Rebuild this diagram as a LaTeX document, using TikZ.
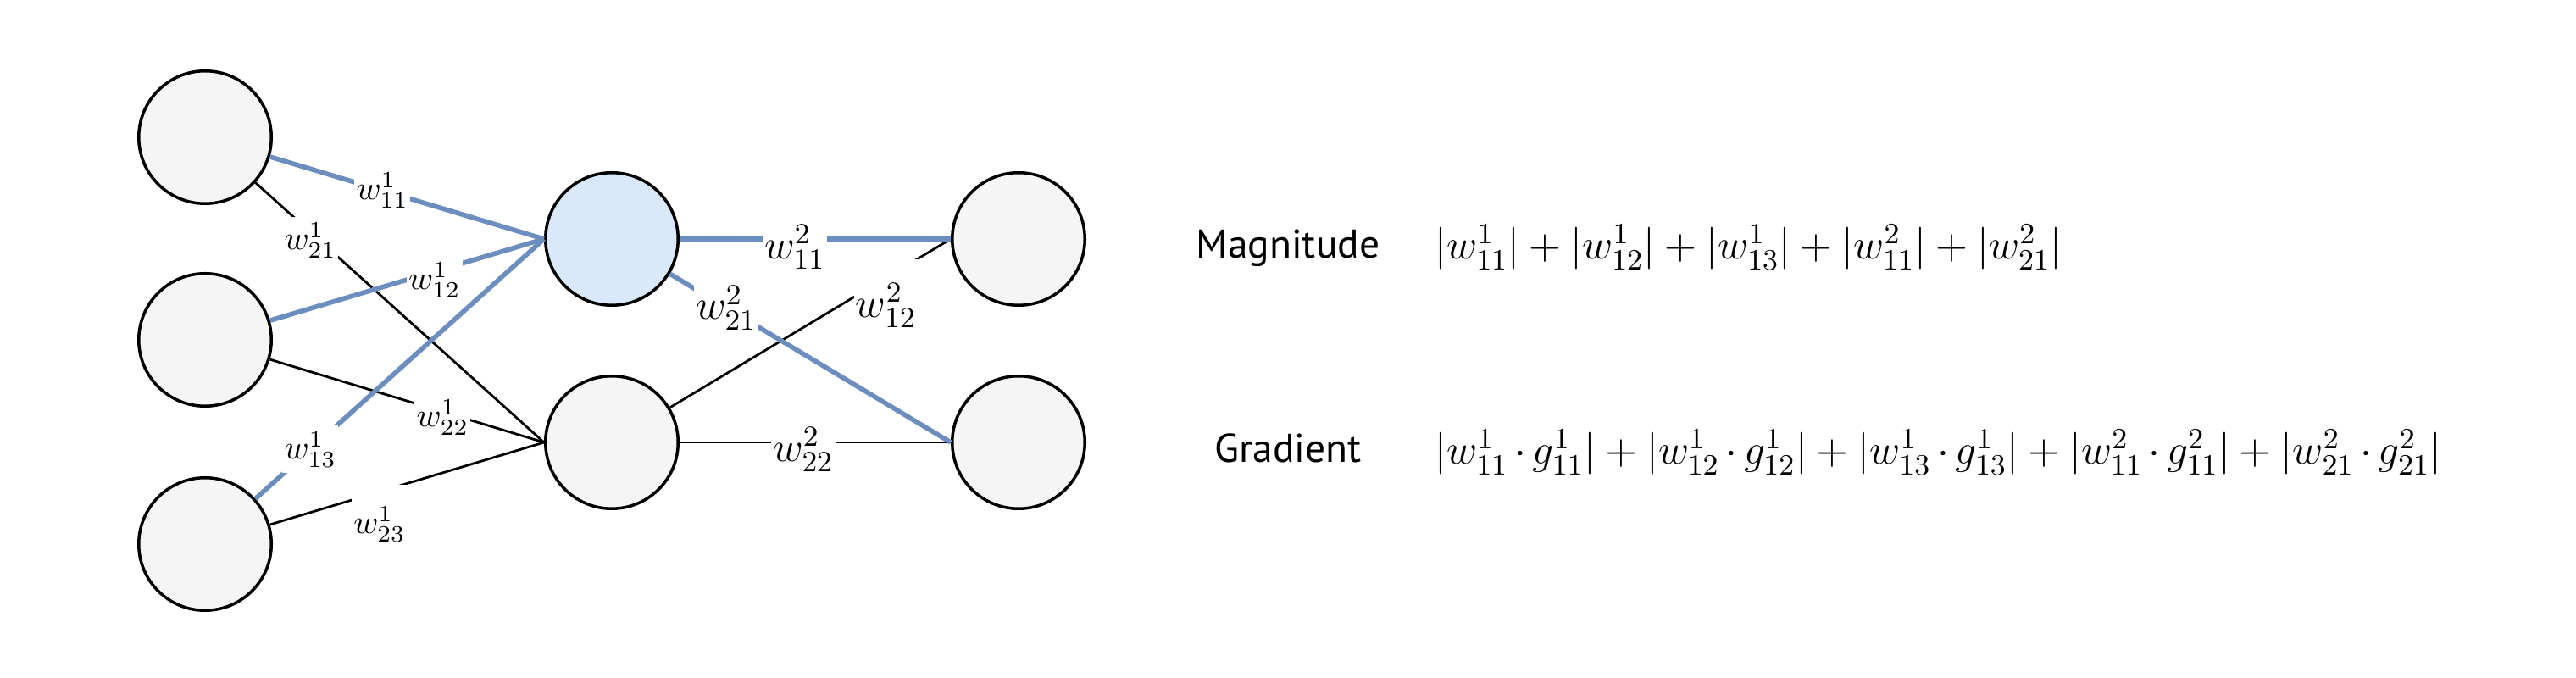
\RequirePackage{fix-cm}
\documentclass[tikz,border=0pt]{standalone}
\usepackage{fontspec}
\newfontfamily\rowfont{PT Sans}
\definecolor{wblue}{RGB}{108,142,191}
\definecolor{ngray}{RGB}{245,245,245}
\definecolor{nblue}{RGB}{218,232,252}
\usetikzlibrary{positioning}
\newcommand{\gdot}{\mskip2.7mu{\cdot}\mskip2.7mu}
\tikzset{
  neuron/.style={draw, circle, line width=1pt, fill=#1,
                 minimum size=1.565cm, inner sep=0pt},
  kedge/.style={draw=black, line width=0.8pt},
  bedge/.style={draw=wblue, line width=1.6pt},
  wlabel/.style={fill=white, inner xsep=0.7pt, inner ysep=2pt,
                 font=\fontsize{11.2}{13}\selectfont},
  wlabeltwo/.style={wlabel, font=\fontsize{14}{16}\selectfont},
  rowname/.style={font=\rowfont\fontsize{13.5}{16}\selectfont, anchor=base, inner sep=0pt},
  formula/.style={font=\fontsize{14.15}{17}\selectfont, anchor=base west, inner sep=0pt},
}

\begin{document}
\begin{tikzpicture}
\useasboundingbox (0,0) rectangle (30.4,8);

% Network: input, hidden and output layer
\node[neuron=ngray] (i1) at (2.42, 6.38) {};
\node[neuron=ngray] (i2) at (2.42, 3.99) {};
\node[neuron=ngray] (i3) at (2.42, 1.58) {};
\node[neuron=nblue] (h1) at (7.22, 5.18) {};
\node[neuron=ngray] (h2) at (7.22, 2.78) {};
\node[neuron=ngray] (o1) at (12.02, 5.18) {};
\node[neuron=ngray] (o2) at (12.02, 2.78) {};

% Black weights
\draw[kedge] (i1) -- (h2.west) node[wlabel, pos=0.19, yshift=-2.8pt] {$w^1_{21}$};
\draw[kedge] (i2) -- (h2.west) node[wlabel, pos=0.63, yshift=-2pt] {$w^1_{22}$};
\draw[kedge] (i3) -- (h2.west) node[wlabel, pos=0.40, anchor=north, yshift=2.85pt, inner ysep=7.4pt] {$w^1_{23}$};
\draw[kedge] (h2) -- (o1.west) node[wlabeltwo, pos=0.77, anchor=north, yshift=6.5pt, inner ysep=8pt] {$w^2_{12}$};
\draw[kedge] (h2.east) -- (o2.west) node[wlabeltwo, pos=0.456, yshift=-2.3pt] {$w^2_{22}$};

% Blue weights (kept)
\draw[bedge] (i1) -- (h1.west) node[wlabel, pos=0.41] {$w^1_{11}$};
\draw[bedge] (i2) -- (h1.west) node[wlabel, pos=0.60, yshift=-2.8pt] {$w^1_{12}$};
\draw[bedge] (i3) -- (h1.west) node[wlabel, pos=0.19] {$w^1_{13}$};
\draw[bedge] (h1.east) -- (o1.west) node[wlabeltwo, pos=0.425, yshift=-2.8pt] {$w^2_{11}$};
\draw[bedge] (h1) -- (o2.west) node[wlabeltwo, pos=0.20] {$w^2_{21}$};

% Importance criteria
\node[rowname] (mag) at (15.2, 4.95) {Magnitude};
\node[formula] (magf) at (16.93, 4.94)
  {$|w^1_{11}| + |w^1_{12}| + |w^1_{13}| + |w^2_{11}| + |w^2_{21}|$};
\node[rowname] (grad) at (15.2, 2.54) {Gradient};
\node[formula] (gradf) at (16.93, 2.52)
  {$|w^1_{11}\gdot g^1_{11}| + |w^1_{12}\gdot g^1_{12}| + |w^1_{13}\gdot g^1_{13}| + |w^2_{11}\gdot g^2_{11}| + |w^2_{21}\gdot g^2_{21}|$};
\end{tikzpicture}
\end{document}
